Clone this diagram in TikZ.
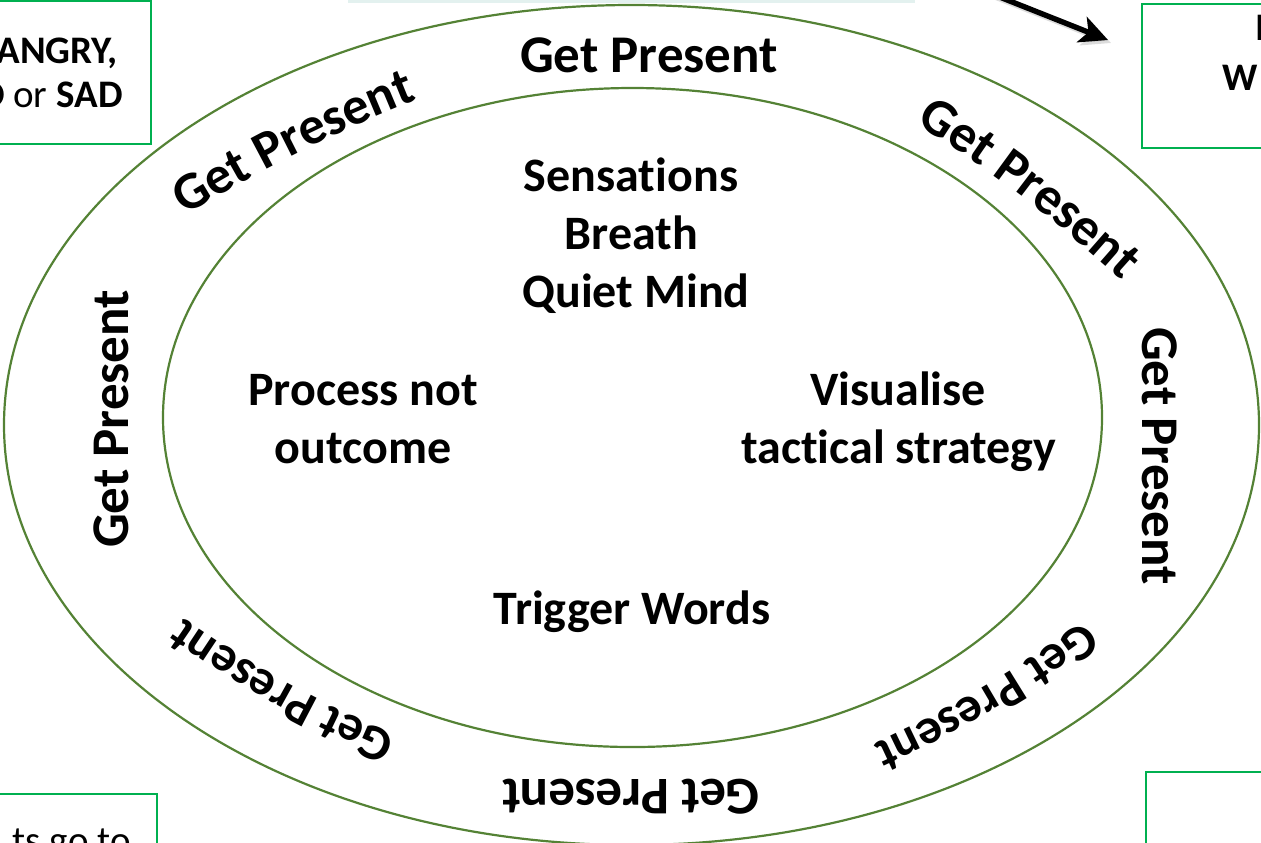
\documentclass[tikz,border=0pt]{standalone}
\usepackage{fontspec}
\setmainfont{Carlito}[RawFeature={-liga;-clig;-calt;-dlig}]
\usetikzlibrary{decorations.text,arrows.meta,calc}
\definecolor{ringgreen}{HTML}{548235}
\definecolor{boxgreen}{HTML}{00B050}
\definecolor{paleband}{HTML}{E3F1EF}
\newcommand\gpfont{\fontsize{26.5}{31}\selectfont\bfseries}
\newcommand\gpsmallfont{\fontsize{25}{30}\selectfont\bfseries}
\tikzset{
  ring/.style={draw=ringgreen, line width=1.1pt},
  boxframe/.style={draw=boxgreen, line width=1.35pt},
  midtext/.style={font=\fontsize{24}{29}\selectfont\bfseries, inner sep=0pt, anchor=base},
  gplabel/.style={font=\gpfont, inner sep=0pt},
  boxtext/.style={font=\fontsize{19.5}{23}\selectfont, inner sep=0pt},
  bigboxtext/.style={font=\fontsize{19.5}{23}\selectfont, inner sep=0pt},
  gpcurve/.style={decorate, decoration={text along path, text={|\gpfont|Get Present}, text align=center}},
  gpcurvesmall/.style={decorate, decoration={text along path, text={|\gpsmallfont|Get Present}, text align=center}},
  bigarrow/.style={line width=2.7pt, -{Stealth[length=14pt, width=13.5pt, inset=3.5pt]}},
}
\begin{document}
\begin{tikzpicture}[x=0.5pt,y=0.5pt]
\useasboundingbox (0,0) rectangle (1261,-842);
\clip (0,0) rectangle (1261,-842);

% faint edge at the top
\fill[paleband] (348,0) rectangle (915,-2.5);

% boxes at the corners
\draw[boxframe] (-20,-1) rectangle (151,-144);
\draw[boxframe] (1142,-4) rectangle (1290,-148);
\draw[boxframe] (-20,-794) rectangle (157,-900);
\draw[boxframe] (1146,-772) rectangle (1290,-900);

\node[boxtext, anchor=base east] (angry) at (118,-63) {\bfseries ANGRY,};
\node[boxtext, anchor=base east] (sad) at (123,-107) {\textbf{D} or \textbf{SAD}};
\node[bigboxtext, anchor=base west] (trl1) at (1255,-40) {\bfseries I};
\node[bigboxtext, anchor=base west] (trl2) at (1222,-90) {\bfseries W};
\node[boxtext, anchor=base east] (blt) at (131,-853) {ts go to};

% arrow
\coordinate (arrS) at (977,12);
\coordinate (arrE) at (1108,-40);
\draw[bigarrow, black!30, opacity=0.45] ([shift={(3,-3)}]arrS) -- ([shift={(3,-3)}]arrE);
\draw[bigarrow] (arrS) -- (arrE);

% ellipses
\coordinate (oc) at (631.5,-425);
\coordinate (ic) at (632.5,-417.5);
\draw[ring] (oc) ellipse [x radius=627.5, y radius=420];
\draw[ring] (ic) ellipse [x radius=469.5, y radius=329.5];

% inner texts
\node[midtext] (sens) at (631,-191) {Sensations};
\node[midtext] (breath) at (631.5,-249) {Breath};
\node[midtext] (quiet) at (636,-307) {Quiet Mind};
\node[midtext] (proc1) at (363,-405) {Process not};
\node[midtext] (proc2) at (363,-463) {outcome};
\node[midtext] (vis1) at (898,-405) {Visualise};
\node[midtext] (vis2) at (898.5,-463) {tactical strategy};
\node[midtext] (trig) at (632,-624) {Trigger Words};

% straight Get Present labels
\node[gplabel] (gpT) at (649,-55) {Get Present};
\node[gplabel, rotate=90] (gpL) at (111,-419) {Get Present};
\node[gplabel, rotate=-90] (gpR) at (1160,-456) {Get Present};
\node[gplabel, rotate=180] (gpB) at (631,-797) {Get Present};

% curved Get Present labels
\coordinate (tlm) at (302,-159);
\coordinate (trm) at (1018,-203);
\coordinate (brm) at (977,-681);
\coordinate (blm) at (291,-675);
\path[gpcurve] ($(tlm)+(206.7:145)$) to[bend left=5] ($(tlm)+(26.7:145)$);
\path[gpcurve] ($(trm)+(142.7:145)$) to[bend left=5] ($(trm)+(-37.3:145)$);
\path[gpcurvesmall] ($(brm)+(30.4:140)$) to[bend left=6] ($(brm)+(210.4:140)$);
\path[gpcurvesmall] ($(blm)+(-29:140)$) to[bend left=6] ($(blm)+(151:140)$);
\end{tikzpicture}
\end{document}
